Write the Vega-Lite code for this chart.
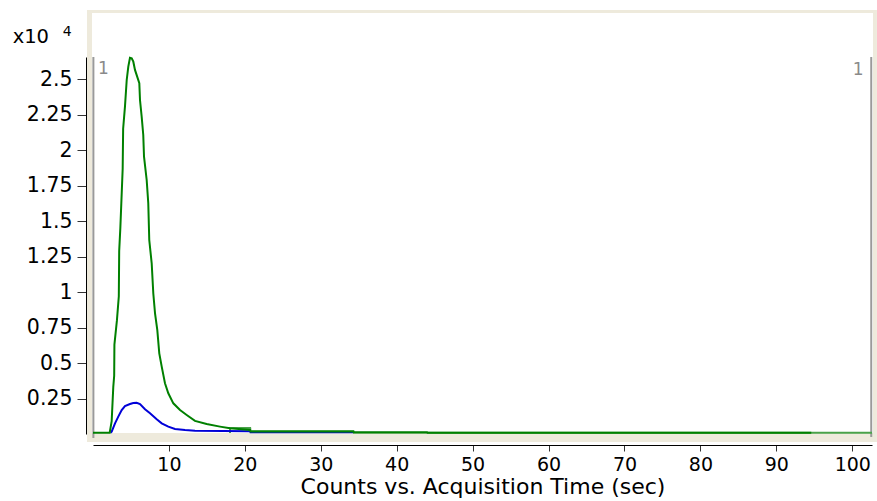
{
  "$schema": "https://vega.github.io/schema/vega-lite/v6.json",
  "width": 779,
  "height": 377,
  "autosize": {"type": "none"},
  "padding": {"left": 93, "top": 57, "right": 5, "bottom": 67},
  "background": "white",
  "config": {"view": {"stroke": null}, "font": "DejaVu Sans"},
  "datasets": {
    "traces": [
      {"series": "light", "time": 18.04, "counts": 70},
      {"series": "light", "time": 18.06, "counts": 420},
      {"series": "light", "time": 20.7, "counts": 420},
      {"series": "light", "time": 20.75, "counts": 200},
      {"series": "light", "time": 34.3, "counts": 200},
      {"series": "light", "time": 34.35, "counts": 130},
      {"series": "light", "time": 44, "counts": 130},
      {"series": "light", "time": 44.05, "counts": 85},
      {"series": "light", "time": 102.6, "counts": 85},

      {"series": "blue", "time": 2.3, "counts": 85},
      {"series": "blue", "time": 2.46, "counts": 160},
      {"series": "blue", "time": 2.9, "counts": 750},
      {"series": "blue", "time": 3.33, "counts": 1220},
      {"series": "blue", "time": 3.78, "counts": 1690},
      {"series": "blue", "time": 4.21, "counts": 1970},
      {"series": "blue", "time": 4.87, "counts": 2110},
      {"series": "blue", "time": 5.3, "counts": 2180},
      {"series": "blue", "time": 5.75, "counts": 2200},
      {"series": "blue", "time": 6.19, "counts": 2110},
      {"series": "blue", "time": 6.85, "counts": 1740},
      {"series": "blue", "time": 7.51, "counts": 1460},
      {"series": "blue", "time": 8.39, "counts": 1035},
      {"series": "blue", "time": 9.05, "counts": 750},
      {"series": "blue", "time": 9.92, "counts": 515},
      {"series": "blue", "time": 10.8, "counts": 350},
      {"series": "blue", "time": 12.12, "counts": 280},
      {"series": "blue", "time": 13.43, "counts": 230},
      {"series": "blue", "time": 20.7, "counts": 200},
      {"series": "blue", "time": 20.75, "counts": 120},
      {"series": "blue", "time": 34.3, "counts": 120},

      {"series": "green", "time": 0, "counts": 85},
      {"series": "green", "time": 2.2, "counts": 85},
      {"series": "green", "time": 2.46, "counts": 900},
      {"series": "green", "time": 2.67, "counts": 3300},
      {"series": "green", "time": 2.79, "counts": 4100},
      {"series": "green", "time": 2.82, "counts": 6300},
      {"series": "green", "time": 3.15, "counts": 8000},
      {"series": "green", "time": 3.4, "counts": 9700},
      {"series": "green", "time": 3.45, "counts": 12900},
      {"series": "green", "time": 3.6, "counts": 14500},
      {"series": "green", "time": 3.91, "counts": 18700},
      {"series": "green", "time": 3.97, "counts": 21500},
      {"series": "green", "time": 4.21, "counts": 23050},
      {"series": "green", "time": 4.44, "counts": 24930},
      {"series": "green", "time": 4.65, "counts": 25870},
      {"series": "green", "time": 4.87, "counts": 26500},
      {"series": "green", "time": 5.1, "counts": 26460},
      {"series": "green", "time": 5.31, "counts": 26220},
      {"series": "green", "time": 5.53, "counts": 25640},
      {"series": "green", "time": 6.1, "counts": 24700},
      {"series": "green", "time": 6.19, "counts": 23520},
      {"series": "green", "time": 6.41, "counts": 22350},
      {"series": "green", "time": 6.62, "counts": 21060},
      {"series": "green", "time": 6.72, "counts": 19530},
      {"series": "green", "time": 7.07, "counts": 17890},
      {"series": "green", "time": 7.28, "counts": 16250},
      {"series": "green", "time": 7.41, "counts": 13660},
      {"series": "green", "time": 7.73, "counts": 12020},
      {"series": "green", "time": 7.94, "counts": 9910},
      {"series": "green", "time": 8.17, "counts": 8500},
      {"series": "green", "time": 8.47, "counts": 7320},
      {"series": "green", "time": 8.73, "counts": 5680},
      {"series": "green", "time": 9.05, "counts": 4740},
      {"series": "green", "time": 9.48, "counts": 3570},
      {"series": "green", "time": 9.92, "counts": 2870},
      {"series": "green", "time": 10.58, "counts": 2160},
      {"series": "green", "time": 11.46, "counts": 1690},
      {"series": "green", "time": 12.34, "counts": 1340},
      {"series": "green", "time": 13.43, "counts": 920},
      {"series": "green", "time": 14.97, "counts": 700},
      {"series": "green", "time": 16.73, "counts": 520},
      {"series": "green", "time": 18.04, "counts": 400},
      {"series": "green", "time": 20.68, "counts": 280},
      {"series": "green", "time": 20.75, "counts": 170},
      {"series": "green", "time": 34.3, "counts": 170},
      {"series": "green", "time": 34.35, "counts": 110},
      {"series": "green", "time": 44, "counts": 110},
      {"series": "green", "time": 44.05, "counts": 85},
      {"series": "green", "time": 94.6, "counts": 85}
    ]
  },
  "layer": [
    {
      "data": {"values": [{}]},
      "mark": {"type": "rect", "fill": "#eeeadc"},
      "encoding": {
        "x": {"datum": -0.79, "type": "quantitative"},
        "x2": {"datum": 103.25},
        "y": {"datum": 29861, "type": "quantitative"},
        "y2": {"datum": -563}
      }
    },
    {
      "data": {"values": [{}]},
      "mark": {"type": "rect", "fill": "white"},
      "encoding": {
        "x": {"datum": -0.13, "type": "quantitative"},
        "x2": {"datum": 102.73},
        "y": {"datum": 29650, "type": "quantitative"},
        "y2": {"datum": 70}
      }
    },
    {
      "data": {"values": [{}]},
      "mark": {"type": "rule", "color": "#9a9a9a", "strokeWidth": 2},
      "encoding": {
        "x": {"datum": 0.05, "type": "quantitative"},
        "y": {"datum": 26550, "type": "quantitative"},
        "y2": {"datum": -280}
      }
    },
    {
      "data": {"values": [{}]},
      "mark": {"type": "rule", "color": "#9a9a9a", "strokeWidth": 2},
      "encoding": {
        "x": {"datum": 102.5, "type": "quantitative"},
        "y": {"datum": 26550, "type": "quantitative"},
        "y2": {"datum": -210}
      }
    },
    {
      "data": {"name": "traces"},
      "mark": {"type": "line", "strokeWidth": 2},
      "encoding": {
        "x": {
          "field": "time",
          "type": "quantitative",
          "scale": {"domain": [0, 102.6], "nice": false, "zero": false},
          "axis": {
            "values": [10, 20, 30, 40, 50, 60, 70, 80, 90, 100],
            "title": "Counts vs. Acquisition Time (sec)",
            "offset": 11,
            "grid": false,
            "domainColor": "black",
            "tickColor": "#333333",
            "tickSize": 6,
            "labelFont": "DejaVu Sans",
            "labelFontSize": 19,
            "labelColor": "black",
            "labelPadding": 4,
            "titleFont": "DejaVu Sans",
            "titleFontSize": 22,
            "titleFontWeight": "normal",
            "titleColor": "black",
            "titlePadding": 2
          }
        },
        "y": {
          "field": "counts",
          "type": "quantitative",
          "scale": {"domain": [0, 26550], "nice": false, "zero": false},
          "axis": {
            "values": [2500, 5000, 7500, 10000, 12500, 15000, 17500, 20000, 22500, 25000],
            "labelExpr": "format(datum.value / 10000, '~g')",
            "title": null,
            "offset": 7,
            "grid": false,
            "domainColor": "black",
            "tickColor": "#333333",
            "tickSize": 9,
            "labelFont": "DejaVu Sans",
            "labelFontSize": 20.5,
            "labelColor": "black",
            "labelPadding": 5
          }
        },
        "color": {
          "field": "series",
          "type": "nominal",
          "scale": {"domain": ["light", "blue", "green"], "range": ["#4aa24a", "#0000d8", "#008000"]},
          "legend": null
        }
      }
    },
    {
      "data": {"values": [{"label": "1"}]},
      "mark": {"type": "text", "align": "left", "baseline": "alphabetic", "fontSize": 17, "color": "#8a8a8a", "font": "DejaVu Sans"},
      "encoding": {
        "x": {"datum": 0.65, "type": "quantitative"},
        "y": {"datum": 25354, "type": "quantitative"},
        "text": {"field": "label"}
      }
    },
    {
      "data": {"values": [{"label": "1"}]},
      "mark": {"type": "text", "align": "right", "baseline": "alphabetic", "fontSize": 17, "color": "#8a8a8a", "font": "DejaVu Sans"},
      "encoding": {
        "x": {"datum": 101.5, "type": "quantitative"},
        "y": {"datum": 25284, "type": "quantitative"},
        "text": {"field": "label"}
      }
    },
    {
      "data": {"values": [{"label": "x10"}]},
      "mark": {"type": "text", "align": "left", "baseline": "alphabetic", "fontSize": 19.5, "color": "black", "font": "DejaVu Sans"},
      "encoding": {
        "x": {"datum": -10.58, "type": "quantitative"},
        "y": {"datum": 27558, "type": "quantitative"},
        "text": {"field": "label"}
      }
    },
    {
      "data": {"values": [{"label": "4"}]},
      "mark": {"type": "text", "align": "left", "baseline": "alphabetic", "fontSize": 14, "color": "black", "font": "DejaVu Sans"},
      "encoding": {
        "x": {"datum": -4.0, "type": "quantitative"},
        "y": {"datum": 28030, "type": "quantitative"},
        "text": {"field": "label"}
      }
    }
  ]
}
